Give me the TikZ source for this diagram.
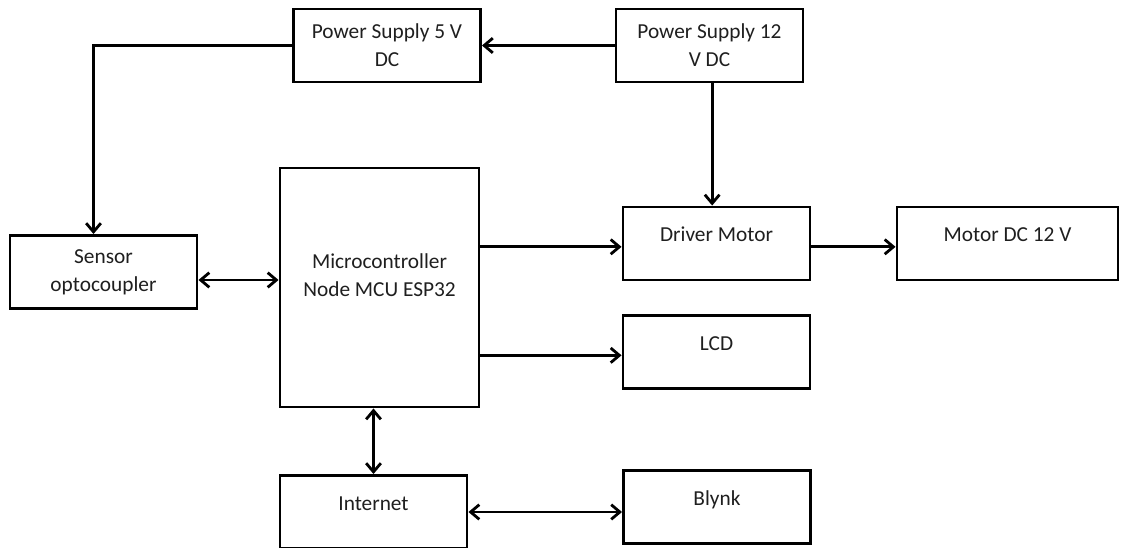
\documentclass[tikz,border=0pt]{standalone}
\usepackage{fontspec}
\setmainfont{Carlito}
\usetikzlibrary{arrows.meta,positioning,calc}
\begin{document}
\begin{tikzpicture}[
  x=0.75pt,y=0.75pt,
  font=\fontsize{16}{21}\selectfont,
  flow/.style={-{Straight Barb[length=6.5pt,width=11pt]},draw=black,line width=2.1pt},
  both/.style={{Straight Barb[length=6.5pt,width=11pt]}-{Straight Barb[length=6.5pt,width=11pt]},
    draw=black,line width=2.1pt},
  blk/.style={draw=black,line width=2.2pt,fill=white,align=center,text=black!88,
    minimum width=140.25pt,minimum height=54.75pt,inner sep=0pt},
  topblk/.style={blk,text height=26.25pt,text depth=28.5pt}
]
  \useasboundingbox (0,0) rectangle (1121,547);
  \fill[white] (0,0) rectangle (1121,547);

  \node[blk] (ps5) at (387,501.5) {Power Supply 5 V\\DC};
  \node[blk] (ps12) at (709.5,501.5) {Power Supply 12\\V DC};
  \node[blk] (sensor) at (103.5,275) {Sensor\\optocoupler};
  \node[blk,minimum width=149.25pt,minimum height=179.25pt,text depth=18pt]
    (mcu) at (379.5,259.5) {Microcontroller\\Node MCU ESP32};
  \node[topblk] (driver) at (716.5,303.5) {Driver Motor};
  \node[topblk,minimum width=165.75pt] (motor) at (1007.5,303.5) {Motor DC 12 V};
  \node[topblk] (lcd) at (716.5,195) {LCD};
  \node[topblk] (internet) at (373.5,35) {Internet};
  \node[topblk] (blynk) at (717,40) {Blynk};

  \draw[flow] (ps12.west) -- (ps5.east);
  \draw[flow] (ps5.west) -| ([xshift=-7.5pt]sensor.north);
  \draw[flow] ([xshift=2pt]ps12.south) -- ([xshift=2pt]ps12.south |- driver.north);
  \draw[both] ([yshift=-6pt]sensor.east) -- ([yshift=-6pt]sensor.east -| mcu.west);
  \draw[flow] ([yshift=-2.5pt]mcu.east |- driver.west) -- ([yshift=-2.5pt]driver.west);
  \draw[flow] ([yshift=-2.5pt]driver.east) -- ([yshift=-2.5pt]driver.east -| motor.west);
  \draw[flow] ([yshift=-2.5pt]mcu.east |- lcd.west) -- ([yshift=-2.5pt]lcd.west);
  \draw[both] (internet.north |- mcu.south) -- (internet.north);
  \draw[both] (internet.east) -- (internet.east -| blynk.west);
\end{tikzpicture}
\end{document}
